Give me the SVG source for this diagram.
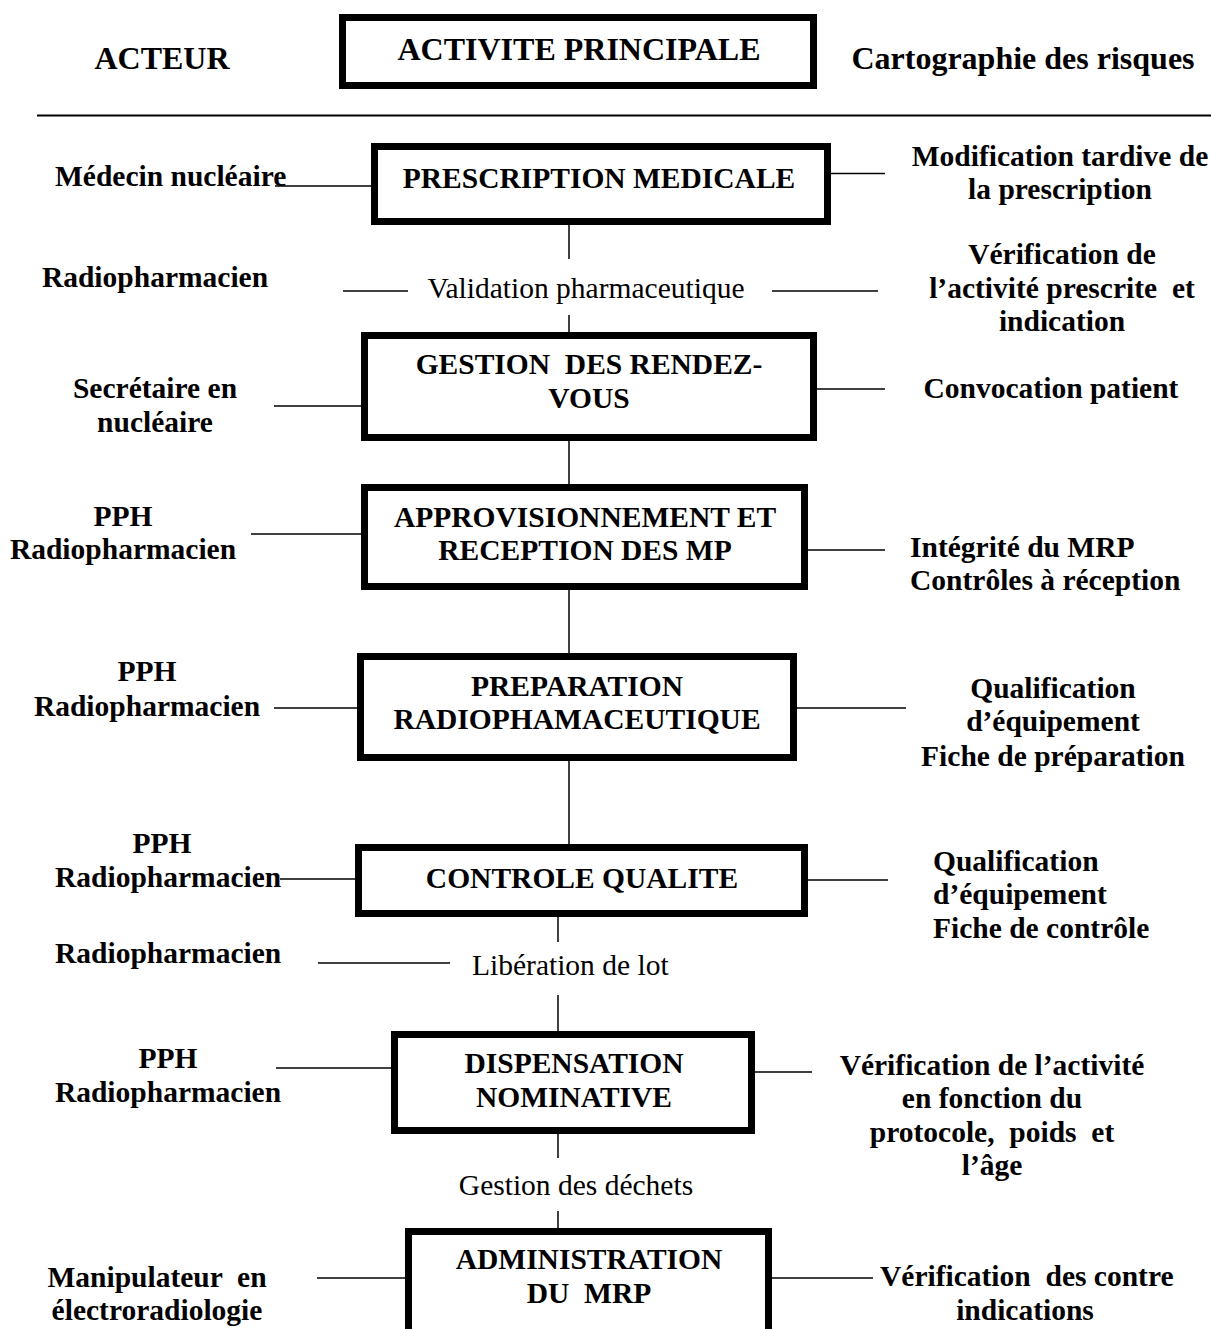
<svg xmlns="http://www.w3.org/2000/svg" width="1211" height="1329" viewBox="0 0 1211 1329">
<style>
text{font-family:"Liberation Serif","Times New Roman",serif;fill:#000;white-space:pre}
.h{font-size:32px;font-weight:bold}
.b{font-size:29.5px;font-weight:bold}
.r{font-size:29.5px;font-weight:normal}
.m{text-anchor:middle}
.box{fill:#fff;stroke:#000;stroke-width:7}
.c{stroke:#000;stroke-width:1.5;fill:none}
</style>
<rect width="1211" height="1329" fill="#fff"/>
<g id="header">
<text class="h m" x="162" y="69">ACTEUR</text>
<rect class="box" x="342.5" y="17.5" width="471" height="68"/>
<text class="h m" x="579" y="60">ACTIVITE PRINCIPALE</text>
<text class="h m" x="1023" y="69">Cartographie des risques</text>
<line x1="37" y1="115.5" x2="1211" y2="115.5" stroke="#000" stroke-width="2.2"/>
</g>
<g id="connectors">
<line class="c" x1="569" y1="225" x2="569" y2="259"/>
<line class="c" x1="569" y1="315" x2="569" y2="332"/>
<line class="c" x1="569" y1="441" x2="569" y2="484"/>
<line class="c" x1="569" y1="590" x2="569" y2="653"/>
<line class="c" x1="569" y1="761" x2="569" y2="844"/>
<line class="c" x1="558" y1="917" x2="558" y2="942"/>
<line class="c" x1="558" y1="995" x2="558" y2="1031"/>
<line class="c" x1="558" y1="1134" x2="558" y2="1158"/>
<line class="c" x1="558" y1="1211" x2="558" y2="1228"/>
<line class="c" x1="275" y1="186" x2="371" y2="186"/>
<line class="c" x1="831" y1="173.5" x2="885" y2="173.5"/>
<line class="c" x1="343" y1="291" x2="408" y2="291"/>
<line class="c" x1="772" y1="291" x2="878" y2="291"/>
<line class="c" x1="274" y1="406" x2="361" y2="406"/>
<line class="c" x1="817" y1="389" x2="885" y2="389"/>
<line class="c" x1="251" y1="534" x2="361" y2="534"/>
<line class="c" x1="808" y1="550" x2="885" y2="550"/>
<line class="c" x1="274" y1="708" x2="357" y2="708"/>
<line class="c" x1="797" y1="708" x2="906" y2="708"/>
<line class="c" x1="280" y1="879" x2="355" y2="879"/>
<line class="c" x1="808" y1="880" x2="888" y2="880"/>
<line class="c" x1="318" y1="963" x2="450" y2="963"/>
<line class="c" x1="276" y1="1068" x2="391" y2="1068"/>
<line class="c" x1="755" y1="1072" x2="812" y2="1072"/>
<line class="c" x1="317" y1="1278" x2="405" y2="1278"/>
<line class="c" x1="772" y1="1278" x2="873" y2="1278"/>
</g>
<g id="n-prescription">
<rect class="box" x="374.5" y="146.5" width="453" height="75"/>
<text class="b m" x="599" y="188">PRESCRIPTION MEDICALE</text>
<text class="b" x="55" y="186">Médecin nucléaire</text>
<text class="b m" x="1060" y="166">Modification tardive de</text>
<text class="b m" x="1060" y="199">la prescription</text>
</g>
<g id="n-validation">
<text class="r m" x="586" y="298">Validation pharmaceutique</text>
<text class="b m" x="155" y="287">Radiopharmacien</text>
<text class="b m" x="1062" y="264">Vérification de</text>
<text class="b m" x="1062" y="298">l’activité prescrite  et</text>
<text class="b m" x="1062" y="331">indication</text>
</g>
<g id="n-gestion">
<rect class="box" x="364.5" y="335.5" width="449" height="102"/>
<text class="b m" x="589" y="374">GESTION  DES RENDEZ-</text>
<text class="b m" x="589" y="408">VOUS</text>
<text class="b m" x="155" y="398">Secrétaire en</text>
<text class="b m" x="155" y="432">nucléaire</text>
<text class="b m" x="1051" y="398">Convocation patient</text>
</g>
<g id="n-approvisionnement">
<rect class="box" x="364.5" y="487.5" width="440" height="99"/>
<text class="b m" x="585" y="527">APPROVISIONNEMENT ET</text>
<text class="b m" x="585" y="560">RECEPTION DES MP</text>
<text class="b m" x="123" y="526">PPH</text>
<text class="b m" x="123" y="559">Radiopharmacien</text>
<text class="b" x="910" y="557">Intégrité du MRP</text>
<text class="b" x="910" y="590">Contrôles à réception</text>
</g>
<g id="n-preparation">
<rect class="box" x="360.5" y="656.5" width="433" height="101"/>
<text class="b m" x="577" y="696">PREPARATION</text>
<text class="b m" x="577" y="729">RADIOPHAMACEUTIQUE</text>
<text class="b m" x="147" y="681">PPH</text>
<text class="b m" x="147" y="716">Radiopharmacien</text>
<text class="b m" x="1053" y="698">Qualification</text>
<text class="b m" x="1053" y="731">d’équipement</text>
<text class="b m" x="1053" y="766">Fiche de préparation</text>
</g>
<g id="n-controle">
<rect class="box" x="358.5" y="847.5" width="446" height="66"/>
<text class="b m" x="582" y="888">CONTROLE QUALITE</text>
<text class="b m" x="162" y="853">PPH</text>
<text class="b" x="55" y="887">Radiopharmacien</text>
<text class="b" x="933" y="871">Qualification</text>
<text class="b" x="933" y="904">d’équipement</text>
<text class="b" x="933" y="938">Fiche de contrôle</text>
</g>
<g id="n-liberation">
<text class="b" x="55" y="963">Radiopharmacien</text>
<text class="r" x="472" y="975">Libération de lot</text>
</g>
<g id="n-dispensation">
<rect class="box" x="394.5" y="1034.5" width="357" height="96"/>
<text class="b m" x="574" y="1073">DISPENSATION</text>
<text class="b m" x="574" y="1107">NOMINATIVE</text>
<text class="b m" x="168" y="1068">PPH</text>
<text class="b m" x="168" y="1102">Radiopharmacien</text>
<text class="b m" x="992" y="1075">Vérification de l’activité</text>
<text class="b m" x="992" y="1108">en fonction du</text>
<text class="b m" x="992" y="1142">protocole,  poids  et</text>
<text class="b m" x="992" y="1175">l’âge</text>
</g>
<g id="n-dechets">
<text class="r m" x="576" y="1195">Gestion des déchets</text>
</g>
<g id="n-administration">
<rect class="box" x="408.5" y="1231.5" width="360" height="120"/>
<text class="b m" x="589" y="1269">ADMINISTRATION</text>
<text class="b m" x="589" y="1303">DU  MRP</text>
<text class="b m" x="157" y="1287">Manipulateur  en</text>
<text class="b m" x="157" y="1320">électroradiologie</text>
<text class="b" x="880" y="1286">Vérification  des contre</text>
<text class="b m" x="1025" y="1320">indications</text>
</g>
</svg>
